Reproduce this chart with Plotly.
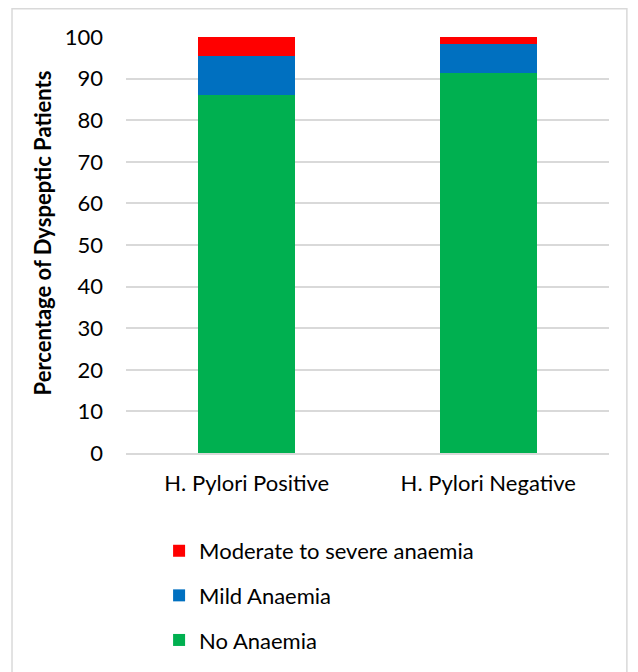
import plotly.graph_objects as go

categories = ["H. Pylori Positive", "H. Pylori Negative"]
no_anaemia = [86.1, 91.3]
mild_anaemia = [9.3, 6.9]
moderate_severe = [4.6, 1.8]
series_names = ["No Anaemia", "Mild Anaemia", "Moderate to severe anaemia"]
colors = ["#00B050", "#0070C0", "#FF0000"]
legend_ranks = [3, 2, 1]
y_title = "Percentage of Dyspeptic Patients"

FONT = "Lato"
FS = 22

fig = go.Figure()
for name, vals, col, rk in zip(series_names, [no_anaemia, mild_anaemia, moderate_severe], colors, legend_ranks):
    fig.add_trace(go.Bar(x=categories, y=vals, name=name, legendgroup=name, legendrank=rk,
                         marker=dict(color=col, line=dict(width=0)), width=0.4))

fig.update_layout(
    barmode="stack",
    width=630, height=664,
    margin=dict(l=118, r=29, t=29, b=219, autoexpand=False),
    paper_bgcolor="white", plot_bgcolor="white",
    font=dict(family=FONT, size=FS, color="black"),
    showlegend=True,
    legend=dict(traceorder="grouped", orientation="v", x=0.0685, y=-0.185, xanchor="left", yanchor="top",
                font=dict(family=FONT, size=FS), tracegroupgap=13, itemwidth=30, bgcolor="rgba(0,0,0,0)"),
    yaxis=dict(range=[0, 100], dtick=10, showgrid=True, gridcolor="#D9D9D9", gridwidth=1.5,
               zeroline=False, showline=False, ticks="", ticklabelstandoff=22),
    xaxis=dict(showline=True, linecolor="#D9D9D9", linewidth=1.5, ticks="", showgrid=False,
               ticklabelstandoff=10),
    annotations=[dict(text="<b>" + y_title + "</b>", xref="paper", yref="paper", x=-0.172, y=0.53,
                      xanchor="center", yanchor="middle", textangle=-90, showarrow=False,
                      font=dict(family=FONT, size=FS, color="black"))],
    shapes=[dict(type="rect", xref="paper", yref="paper", x0=-0.236, x1=1.037, y0=-0.6, y1=1.068,
                 line=dict(color="#D9D9D9", width=1.5), fillcolor="rgba(0,0,0,0)", layer="below")],
)

fig.write_html("out.html")
